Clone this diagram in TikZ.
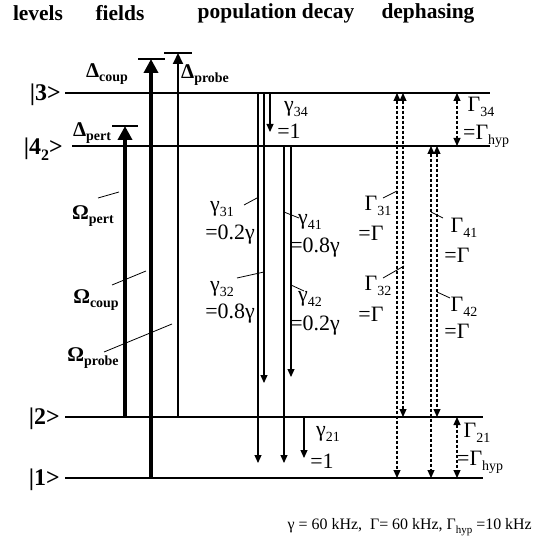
\documentclass[tikz,border=0pt]{standalone}
\usepackage{fontspec}
\setmainfont{Liberation Serif}
\usetikzlibrary{arrows.meta}
\newcommand{\lowsub}[1]{\raisebox{-0.5ex}{\fontsize{14}{14}\selectfont #1}}
\newcommand{\lvsub}[1]{\raisebox{-0.5ex}{\fontsize{16}{16}\selectfont #1}}
\begin{document}
\begin{tikzpicture}[x=1bp,y=-1bp,
  lev/.style={line width=1.4bp},
  lvlab/.style={font=\bfseries\fontsize{24}{24}\selectfont, inner sep=0, anchor=east},
  head/.style={font=\bfseries\fontsize{21.5}{21.5}\selectfont, inner sep=0},
  lab/.style={font=\fontsize{22}{22}\selectfont, inner sep=0},
  blab/.style={font=\bfseries\fontsize{21}{21}\selectfont, inner sep=0},
  fieldthick/.style={line width=3.6bp, -{Triangle[length=14bp,width=14bp]}},
  fieldthin/.style={line width=2bp, -{Triangle[length=11bp,width=10bp]}},
  bar/.style={line width=1.4bp},
  decay/.style={line width=1.1bp, -{Triangle[length=8bp,width=7bp]}},
  deph/.style={line width=1.1bp, dash pattern=on 3bp off 2bp, {Triangle[length=8bp,width=7bp]}-{Triangle[length=8bp,width=7bp]}},
  leader/.style={line width=0.8bp}
]
\useasboundingbox (0,0) rectangle (538,548);
\fill[white] (0,0) rectangle (538,548);

% headers
\node[head] (hlev) at (38,13) {levels};
\node[head] (hfld) at (120,13) {fields};
\node[head] (hpop) at (276,13) {population decay};
\node[head] (hdep) at (428,13) {dephasing};

% level lines
\coordinate (l3a) at (65,93);  \coordinate (l3b) at (490,93);
\coordinate (l4a) at (72,146); \coordinate (l4b) at (490,146);
\coordinate (l2a) at (65,417); \coordinate (l2b) at (483,417);
\coordinate (l1a) at (65,478); \coordinate (l1b) at (483,478);
\draw[lev] (l3a) -- (l3b);
\draw[lev] (l4a) -- (l4b);
\draw[lev] (l2a) -- (l2b);
\draw[lev] (l1a) -- (l1b);

\node[lvlab] (k3) at (61,95) {|3>};
\node[lvlab] (k4) at (63,149) {|4\lvsub{2}>};
\node[lvlab] (k2) at (60,419) {|2>};
\node[lvlab] (k1) at (60,480) {|1>};

% fields
\coordinate (pe0) at (125,417); \coordinate (pe1) at (125,126);
\coordinate (pb1) at (112,126); \coordinate (pb2) at (138,126);
\draw[fieldthick] (pe0) -- (pe1);
\draw[bar] (pb1) -- (pb2);
\coordinate (co0) at (151,478); \coordinate (co1) at (151,59);
\coordinate (cb1) at (138,59); \coordinate (cb2) at (165,59);
\draw[fieldthick] (co0) -- (co1);
\draw[bar] (cb1) -- (cb2);
\coordinate (pr0) at (178,417); \coordinate (pr1) at (178,53);
\coordinate (rb1) at (164,53); \coordinate (rb2) at (192,53);
\draw[fieldthin] (pr0) -- (pr1);
\draw[bar] (rb1) -- (rb2);

\node[blab] (dcoup) at (107,74) {Δ\lowsub{coup}};
\node[blab] (dprobe) at (205,75) {Δ\lowsub{probe}};
\node[blab] (dpert) at (92,133) {Δ\lowsub{pert}};

\node[blab] (opert) at (93,216) {Ω\lowsub{pert}};
\node[blab] (ocoup) at (96,300) {Ω\lowsub{coup}};
\node[blab] (oprobe) at (93,358) {Ω\lowsub{probe}};
\coordinate (lop1) at (98,198); \coordinate (lop2) at (119,192);
\coordinate (loc1) at (112,285); \coordinate (loc2) at (146,271);
\coordinate (lor1) at (104,352); \coordinate (lor2) at (172,324);
\draw[leader] (lop1) -- (lop2);
\draw[leader] (loc1) -- (loc2);
\draw[leader] (lor1) -- (lor2);

% population decay
\coordinate (g31a) at (258,93);  \coordinate (g31b) at (258,463);
\coordinate (g32a) at (264,93);  \coordinate (g32b) at (264,383);
\coordinate (g34a) at (270,93);  \coordinate (g34b) at (270,132);
\coordinate (g41a) at (284,146); \coordinate (g41b) at (284,463);
\coordinate (g42a) at (291,146); \coordinate (g42b) at (291,377);
\coordinate (g21a) at (304,417); \coordinate (g21b) at (304,458);
\draw[decay] (g31a) -- (g31b);
\draw[decay] (g32a) -- (g32b);
\draw[decay] (g34a) -- (g34b);
\draw[decay] (g41a) -- (g41b);
\draw[decay] (g42a) -- (g42b);
\draw[decay] (g21a) -- (g21b);

\node[lab] (t34) at (296,109) {γ\lowsub{34}};
\node[lab] (v34) at (289,131) {=1};
\node[lab] (t31) at (222,209) {γ\lowsub{31}};
\node[lab] (v31) at (230,235) {=0.2γ};
\node[lab] (t32) at (222,289) {γ\lowsub{32}};
\node[lab] (v32) at (230,314) {=0.8γ};
\node[lab] (t41) at (310,222) {γ\lowsub{41}};
\node[lab] (v41) at (315,248) {=0.8γ};
\node[lab] (t42) at (310,299) {γ\lowsub{42}};
\node[lab] (v42) at (315,326) {=0.2γ};
\node[lab] (t21) at (328,434) {γ\lowsub{21}};
\node[lab] (v21) at (322,461) {=1};
\coordinate (lg31a) at (244,205); \coordinate (lg31b) at (257,198);
\coordinate (lg32a) at (237,278); \coordinate (lg32b) at (264,272);
\coordinate (lg41a) at (284,212); \coordinate (lg41b) at (299,218);
\coordinate (lg42a) at (291,285); \coordinate (lg42b) at (304,291);
\draw[leader] (lg31a) -- (lg31b);
\draw[leader] (lg32a) -- (lg32b);
\draw[leader] (lg41a) -- (lg41b);
\draw[leader] (lg42a) -- (lg42b);

% dephasing
\coordinate (G31a) at (397,93);  \coordinate (G31b) at (397,478);
\coordinate (G32a) at (403,93);  \coordinate (G32b) at (403,417);
\coordinate (G41a) at (431,146); \coordinate (G41b) at (431,478);
\coordinate (G42a) at (437,146); \coordinate (G42b) at (437,417);
\coordinate (G34a) at (457,93);  \coordinate (G34b) at (457,146);
\coordinate (G21a) at (457,417); \coordinate (G21b) at (457,478);
\draw[deph] (G31a) -- (G31b);
\draw[deph] (G32a) -- (G32b);
\draw[deph] (G41a) -- (G41b);
\draw[deph] (G42a) -- (G42b);
\draw[deph] (G34a) -- (G34b);
\draw[deph] (G21a) -- (G21b);

\node[lab] (T31) at (378,206) {Γ\lowsub{31}};
\node[lab] (W31) at (371,233) {=Γ};
\node[lab] (T32) at (378,286) {Γ\lowsub{32}};
\node[lab] (W32) at (371,314) {=Γ};
\node[lab] (T41) at (464,228) {Γ\lowsub{41}};
\node[lab] (W41) at (457,255) {=Γ};
\node[lab] (T42) at (464,307) {Γ\lowsub{42}};
\node[lab] (W42) at (457,331) {=Γ};
\node[lab] (T34) at (481,107) {Γ\lowsub{34}};
\node[lab, anchor=west] (W34) at (463,136) {=Γ\lowsub{hyp}};
\node[lab] (T21) at (477,433) {Γ\lowsub{21}};
\node[lab, anchor=west] (W21) at (457,462) {=Γ\lowsub{hyp}};
\coordinate (lG31a) at (383,198); \coordinate (lG31b) at (397,191);
\coordinate (lG32a) at (383,278); \coordinate (lG32b) at (404,266);
\coordinate (lG41a) at (431,212); \coordinate (lG41b) at (443,218);
\coordinate (lG42a) at (437,292); \coordinate (lG42b) at (450,298);
\draw[leader] (lG31a) -- (lG31b);
\draw[leader] (lG32a) -- (lG32b);
\draw[leader] (lG41a) -- (lG41b);
\draw[leader] (lG42a) -- (lG42b);

% bottom note
\node[inner sep=0, anchor=east, font=\fontsize{16}{16}\selectfont] (note) at (532,527) {γ = 60 kHz,\ \ Γ= 60 kHz, Γ\raisebox{-0.5ex}{\fontsize{11}{11}\selectfont hyp} =10 kHz};
\end{tikzpicture}
\end{document}
